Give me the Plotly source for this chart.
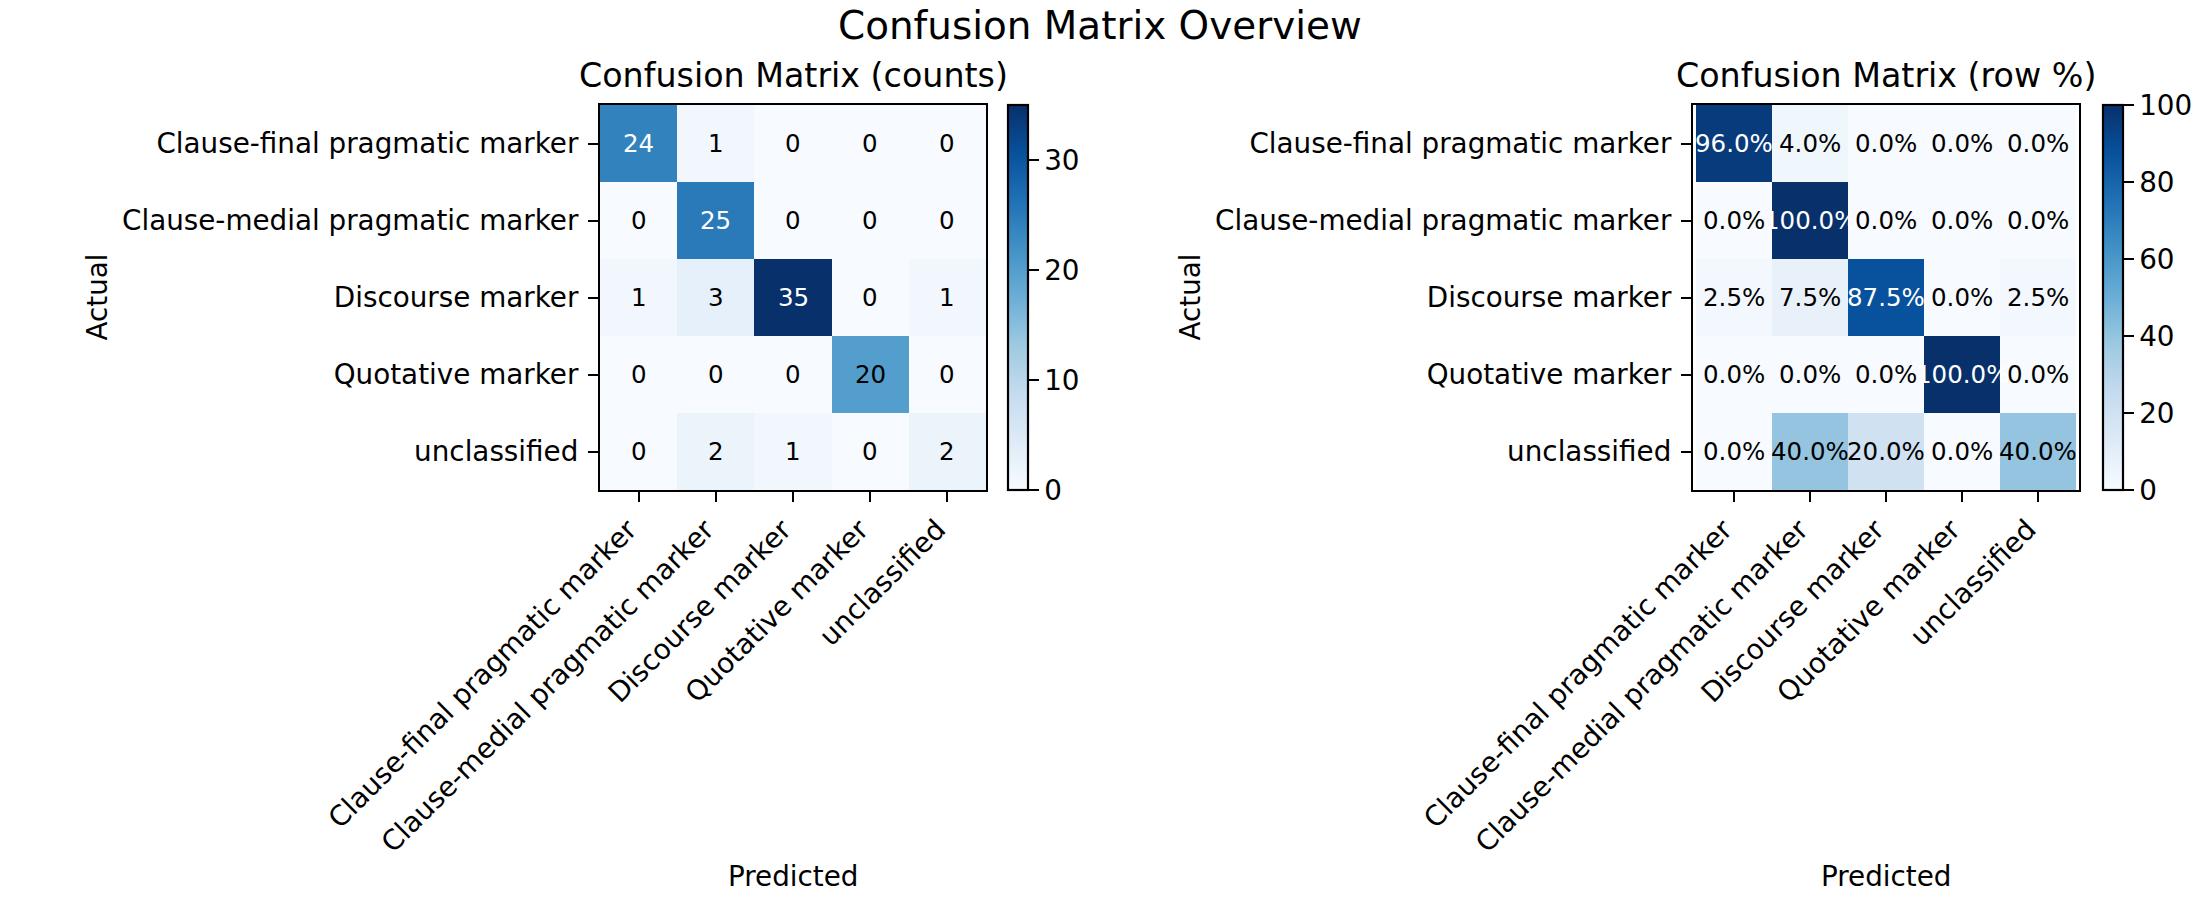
import plotly.graph_objects as go

labels = ["Clause-final pragmatic marker", "Clause-medial pragmatic marker",
          "Discourse marker", "Quotative marker", "unclassified"]

counts = [
    [24, 1, 0, 0, 0],
    [0, 25, 0, 0, 0],
    [1, 3, 35, 0, 1],
    [0, 0, 0, 20, 0],
    [0, 2, 1, 0, 2],
]

row_pct = [
    [96.0, 4.0, 0.0, 0.0, 0.0],
    [0.0, 100.0, 0.0, 0.0, 0.0],
    [2.5, 7.5, 87.5, 0.0, 2.5],
    [0.0, 0.0, 0.0, 100.0, 0.0],
    [0.0, 40.0, 20.0, 0.0, 40.0],
]

counts_ticks = [0, 10, 20, 30]
pct_ticks = [0, 20, 40, 60, 80, 100]

blues = ["#f7fbff", "#deebf7", "#c6dbef", "#9ecae1", "#6baed6",
         "#4292c6", "#2171b5", "#08519c", "#08306b"]
cscale = [[i / 8, c] for i, c in enumerate(blues)]

W, H = 2200, 900
FONT = "DejaVu Sans"
TICK = 27.8
ANN = 24.5
LW = 2.2

def px_x(p):
    return p / W

def px_y(p):
    return 1 - p / H

ax_top, ax_bot = 105, 490
left_ax = (600, 986)
right_ax = (1693, 2079)
left_cb = 1008
right_cb = 2103

fig = go.Figure()

def cbar(xpix, ticks):
    return dict(
        x=px_x(xpix), xanchor="left", xpad=0, ypad=0,
        y=px_y((ax_top + ax_bot) / 2), yanchor="middle",
        len=(ax_bot - ax_top) / H, lenmode="fraction",
        thickness=20, thicknessmode="pixels",
        outlinewidth=LW, outlinecolor="black",
        ticks="outside", ticklen=10, tickwidth=LW, tickcolor="black",
        tickvals=ticks, tickprefix="\u00a0",
        tickfont=dict(size=TICK, color="black", family=FONT),
    )

fig.add_trace(go.Heatmap(
    z=counts, x=labels, y=labels, colorscale=cscale, zmin=0, zmax=max(max(r) for r in counts),
    colorbar=cbar(left_cb, counts_ticks), xaxis="x", yaxis="y", hoverinfo="z",
))
fig.add_trace(go.Heatmap(
    z=row_pct, x=labels, y=labels, colorscale=cscale, zmin=0, zmax=100,
    colorbar=cbar(right_cb, pct_ticks), xaxis="x2", yaxis="y2", hoverinfo="z",
))

annotations = []
cmax = max(max(r) for r in counts)
for i, row in enumerate(counts):
    for j, v in enumerate(row):
        annotations.append(dict(
            x=labels[j], y=labels[i], xref="x", yref="y", text=f"{v:d}", showarrow=False,
            font=dict(size=ANN, family=FONT, color="white" if v > 0.6 * cmax else "black"),
        ))
for i, row in enumerate(row_pct):
    for j, v in enumerate(row):
        annotations.append(dict(
            x=labels[j], y=labels[i], xref="x2", yref="y2", text=f"{v:.1f}%", showarrow=False,
            font=dict(size=ANN, family=FONT, color="white" if v > 60 else "black"),
        ))

# titles
annotations.append(dict(x=0.5, y=px_y(26), xref="paper", yref="paper", text="Confusion Matrix Overview",
                        showarrow=False, xanchor="center", yanchor="middle",
                        font=dict(size=38.9, family=FONT, color="black")))
for (a, b), t in [(left_ax, "Confusion Matrix (counts)"), (right_ax, "Confusion Matrix (row %)")]:
    annotations.append(dict(x=px_x((a + b) / 2), y=px_y(76), xref="paper", yref="paper", text=t,
                            showarrow=False, xanchor="center", yanchor="middle",
                            font=dict(size=33.3, family=FONT, color="black")))
    annotations.append(dict(x=px_x(a - 503), y=px_y((ax_top + ax_bot) / 2), xref="paper", yref="paper",
                            text="Actual", textangle=-90, showarrow=False, xanchor="center", yanchor="middle",
                            font=dict(size=TICK, family=FONT, color="black")))
    annotations.append(dict(x=px_x((a + b) / 2), y=px_y(876), xref="paper", yref="paper",
                            text="Predicted", showarrow=False, xanchor="center", yanchor="middle",
                            font=dict(size=TICK, family=FONT, color="black")))

def xax(a, b, anchor):
    return dict(domain=[px_x(a), px_x(b)], anchor=anchor, showline=True, mirror=True,
                linecolor="black", linewidth=LW, ticks="outside", ticklen=10, tickwidth=LW,
                tickcolor="black", tickangle=-45, showgrid=False, zeroline=False, automargin=False,
                ticklabelshift=-10,
                tickfont=dict(size=TICK, family=FONT, color="black"),
                categoryorder="array", categoryarray=labels)

def yax(anchor):
    return dict(domain=[px_y(ax_bot), px_y(ax_top)], anchor=anchor, showline=True, mirror=True,
                linecolor="black", linewidth=LW, ticks="outside", ticklen=10, tickwidth=LW,
                tickcolor="black", showgrid=False, zeroline=False, autorange="reversed", automargin=False,
                ticklabelstandoff=4,
                tickfont=dict(size=TICK, family=FONT, color="black"),
                categoryorder="array", categoryarray=labels)

fig.update_layout(
    width=W, height=H, margin=dict(l=0, r=0, t=0, b=0),
    paper_bgcolor="white", plot_bgcolor="white",
    font=dict(family=FONT, color="black"),
    xaxis=xax(*left_ax, "y"), yaxis=yax("x"),
    xaxis2=xax(*right_ax, "y2"), yaxis2=yax("x2"),
    annotations=annotations, showlegend=False,
)

fig.write_html("out.html", config={"displayModeBar": False},
               post_script="document.body.style.margin='0';document.body.style.overflow='hidden';")
